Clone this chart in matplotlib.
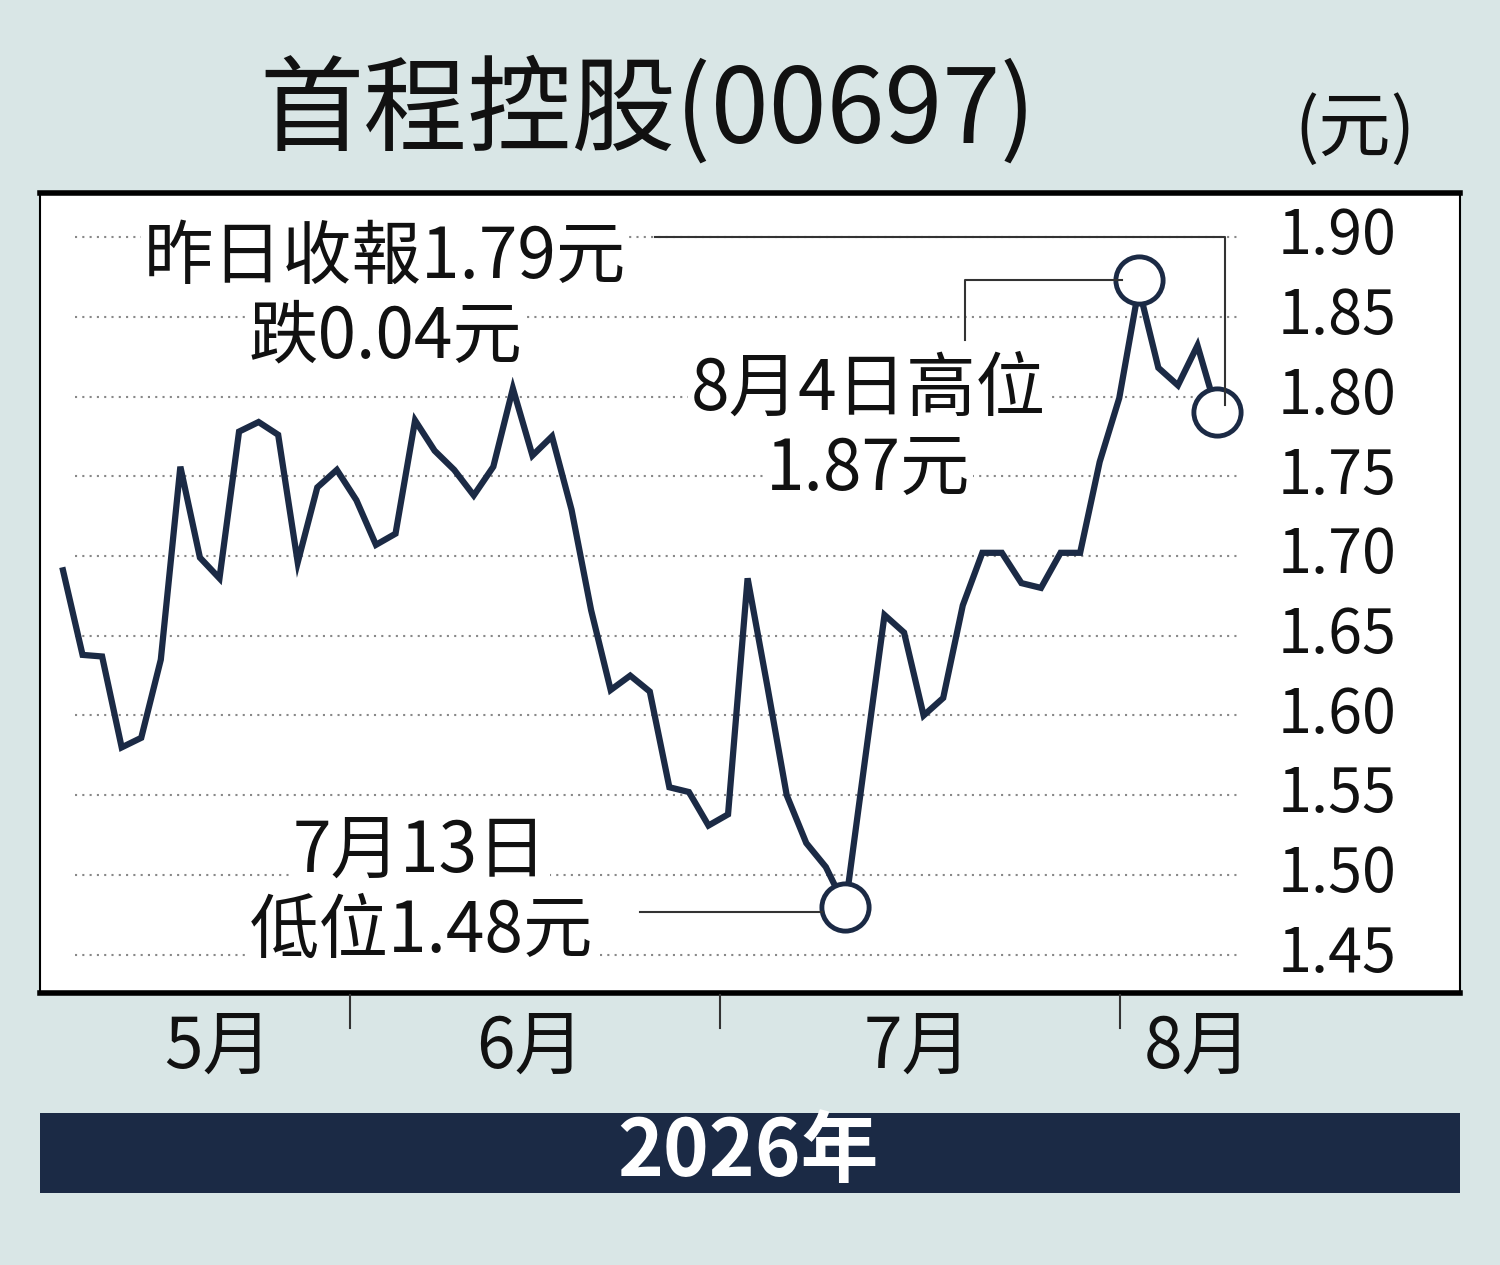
import matplotlib
matplotlib.use("Agg")
import matplotlib.pyplot as plt
from matplotlib.lines import Line2D
from matplotlib.patches import Rectangle

plt.rcParams['font.family'] = ['Noto Sans CJK TC', 'DejaVu Sans']

prices = [1.691, 1.638, 1.637, 1.580, 1.586, 1.635, 1.756, 1.699, 1.686, 1.778,
          1.784, 1.776, 1.696, 1.743, 1.754, 1.735, 1.707, 1.714, 1.785, 1.766,
          1.754, 1.738, 1.756, 1.805, 1.763, 1.775, 1.729, 1.666, 1.616, 1.625,
          1.615, 1.555, 1.552, 1.531, 1.538, 1.686, 1.619, 1.550, 1.520, 1.505,
          1.480, 1.572, 1.663, 1.652, 1.600, 1.611, 1.669, 1.702, 1.702, 1.683,
          1.680, 1.702, 1.702, 1.759, 1.799, 1.868, 1.818, 1.807, 1.832, 1.790]
yticks = [1.45, 1.50, 1.55, 1.60, 1.65, 1.70, 1.75, 1.80, 1.85, 1.90]
months = ['5月', '6月', '7月', '8月']
month_px = [218, 530, 918, 1198]
divider_px = [350, 720, 1120]
low_idx, high_idx, last_idx = 40, 55, 59

bg = '#d9e6e6'
navy = '#1b2a45'
W, H = 1500, 1265

def fx(px): return px / W
def fy(py): return 1 - py / H

fig = plt.figure(figsize=(15, 12.65), dpi=100, facecolor=bg)
ax = fig.add_axes([fx(40), fy(993), 1420 / W, 800 / H])
ax.set_facecolor('white')
step = 19.56
ax.set_xlim((40 - 63) / step, (1460 - 63) / step)
ax.set_ylim(1.426, 1.9276)
ax.set_xticks([]); ax.set_yticks([])
for s in ['top', 'bottom']:
    ax.spines[s].set_linewidth(4)
for s in ['left', 'right']:
    ax.spines[s].set_linewidth(1.5)

ax.hlines(yticks, 0.6, 60.2, colors='#888888', linestyles=(0, (1, 2.5)), linewidth=1.5, zorder=1)
for v in yticks:
    ax.text((1337 - 63) / step, v, f'{v:.2f}', fontsize=44, ha='center',
            va='center', color='#111111')

xs = list(range(len(prices)))
ax.plot(xs, prices, color=navy, linewidth=4.5, solid_joinstyle='miter', zorder=3)
ax.plot([low_idx, last_idx], [prices[low_idx], prices[last_idx]], 'o', ms=34,
        mfc='white', mec=navy, mew=3.5, zorder=5)
ax.plot([high_idx], [1.873], 'o', ms=34, mfc='white', mec=navy, mew=3.5, zorder=5)

box = dict(facecolor='white', edgecolor='none', pad=2)
kw = dict(fontsize=50, color='#111111', ha='center', va='center', bbox=box, zorder=4)
fig.text(fx(385), fy(258), '昨日收報1.79元', **kw)
fig.text(fx(385), fy(338), '跌0.04元', **kw)
fig.text(fx(868), fy(390), '8月4日高位', **kw)
fig.text(fx(868), fy(470), '1.87元', **kw)
fig.text(fx(420), fy(852), '7月13日', **kw)
fig.text(fx(422), fy(932), '低位1.48元', **kw)

lk = dict(color='#333333', linewidth=1.5, transform=fig.transFigure, zorder=2)
fig.add_artist(Line2D([fx(655), fx(1225), fx(1225)], [fy(237), fy(237), fy(405)], **lk))
fig.add_artist(Line2D([fx(965), fx(965), fx(1122)], [fy(340), fy(280), fy(280)], **lk))
fig.add_artist(Line2D([fx(640), fx(822)], [fy(912), fy(912)], **lk))

for p in divider_px:
    fig.add_artist(Line2D([fx(p), fx(p)], [fy(995), fy(1028)], color='#333333',
                          linewidth=1.5, transform=fig.transFigure))
for m, p in zip(months, month_px):
    fig.text(fx(p), fy(1048), m, fontsize=50, ha='center', va='center', color='#111111')

fig.text(fx(648), fy(112), '首程控股(00697)', fontsize=75, ha='center', va='center', color='#111111')
fig.text(fx(1355), fy(130), '(元)', fontsize=52, ha='center', va='center', color='#111111')

fig.add_artist(Rectangle((fx(40), fy(1193)), 1420 / W, 80 / H, facecolor=navy,
                         edgecolor='none', transform=fig.transFigure))
fig.text(fx(748), fy(1153), '2026年', fontsize=56, fontweight='bold', ha='center',
         va='center', color='white')

fig.savefig('out.png', dpi=100, facecolor=bg)
